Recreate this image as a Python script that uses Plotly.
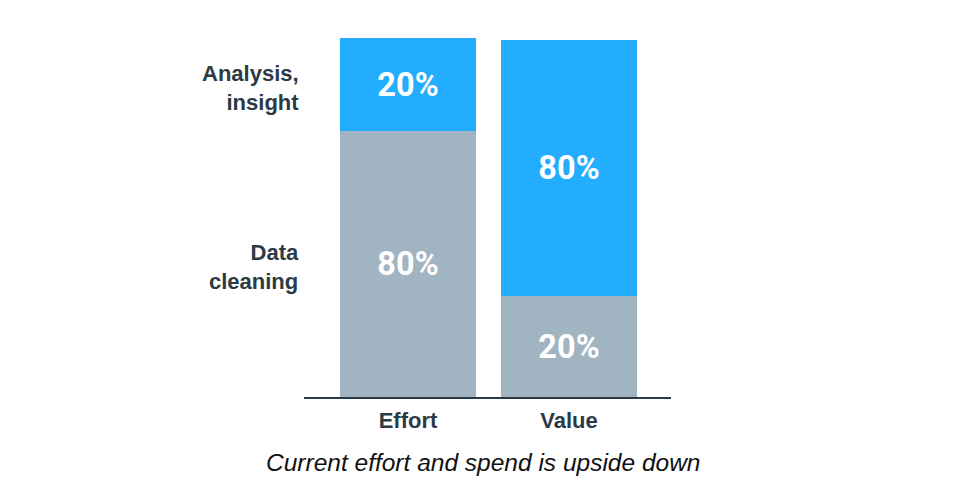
import plotly.graph_objects as go

categories = ["Effort", "Value"]
segments = ["Data<br>cleaning", "Analysis,<br>insight"]
data_cleaning = [74, 28]
analysis_insight = [26, 71.5]
data_cleaning_labels = ["80%", "20%"]
analysis_insight_labels = ["20%", "80%"]
caption = "Current effort and spend is upside down"

GRAY = "#a0b4c1"
BLUE = "#22adff"
DARK = "#2b3a45"

# page body has an 8px default margin
L, T, PW, PH = 296, 30, 367, 359

fig = go.Figure()
for vals, labels, color in [
    (data_cleaning, data_cleaning_labels, GRAY),
    (analysis_insight, analysis_insight_labels, BLUE),
]:
    fig.add_trace(go.Bar(
        x=categories, y=vals, text=labels, width=0.85,
        marker=dict(color=color, line=dict(width=0)),
        textposition="inside", insidetextanchor="middle",
        textfont=dict(family="Roboto", size=32.5, color="white", weight="bold"),
        hoverinfo="skip",
    ))

mids = [data_cleaning[0] / 2, data_cleaning[0] + analysis_insight[0] / 2]
for label, ymid in zip(segments, mids):
    fig.add_annotation(
        x=0, xref="paper", xanchor="right", xshift=-3, yshift=-3,
        y=ymid, yref="y", yanchor="middle",
        text=label, showarrow=False, align="right",
        font=dict(family="Liberation Sans", size=22, color=DARK, weight="bold"),
    )

fig.add_annotation(
    x=(483 - 304) / PW, xref="paper", y=-(462 - 397) / PH, yref="paper",
    text="<i>" + caption + "</i>", showarrow=False,
    xanchor="center", yanchor="middle",
    font=dict(family="Liberation Sans", size=24.5, color="#111111"),
)

fig.update_layout(
    barmode="stack",
    width=960, height=500,
    margin=dict(l=L, r=960 - L - PW, t=T, b=500 - T - PH),
    paper_bgcolor="white", plot_bgcolor="white",
    showlegend=False,
    bargap=0,
    xaxis=dict(
        range=[-0.646, 1.634], showgrid=False, zeroline=False,
        showline=True, linecolor="#2a3a44", linewidth=2,
        ticks="", tickfont=dict(family="Liberation Sans", size=22, color=DARK, weight="bold"),
        ticklabelstandoff=3,
    ),
    yaxis=dict(range=[0, 100], visible=False),
)

fig.write_html("out.html")
